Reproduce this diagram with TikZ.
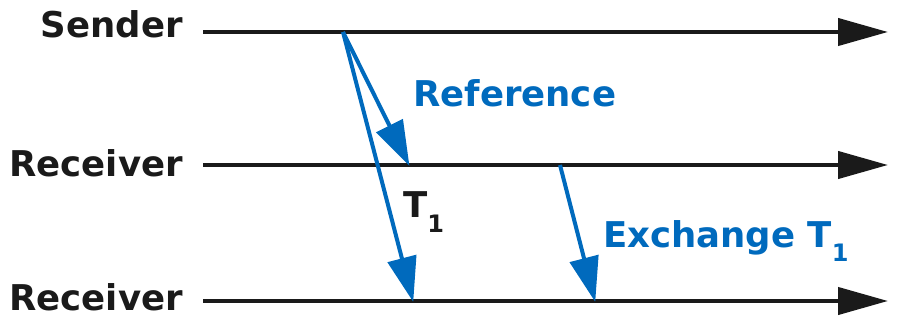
\documentclass[tikz,border=0pt]{standalone}
\usepackage{fontspec}
\setmainfont{DejaVu Sans}
\usetikzlibrary{arrows.meta}
\definecolor{adiblue}{RGB}{0,106,189}
\definecolor{linegray}{RGB}{26,26,26}
\tikzset{
  lbl/.style={inner sep=0pt, font=\fontsize{35.5}{40}\selectfont\bfseries},
  timeline/.style={line width=4.2pt, draw=linegray, -{Triangle[length=50pt,width=27pt]}},
  msg/.style={line width=4pt, draw=adiblue, -{Triangle[length=45pt,width=29pt]}, shorten >=-1pt},
}
\newcommand{\subone}{\raisebox{-14pt}{\fontsize{24}{28}\selectfont 1}}
\begin{document}
\begin{tikzpicture}[x=1pt,y=-1pt]
\useasboundingbox (0,0) rectangle (900,326);
% timelines
\coordinate (s0) at (203,32);   \coordinate (s1) at (888,32);
\coordinate (r0) at (203,165);  \coordinate (r1) at (888,165);
\coordinate (q0) at (203,301);  \coordinate (q1) at (888,301);
\draw[timeline] (s0) -- (s1);
\draw[timeline] (r0) -- (r1);
\draw[timeline] (q0) -- (q1);
% labels
\node[lbl, anchor=base east, text=linegray] (sender) at (183,38) {Sender};
\node[lbl, anchor=base east, text=linegray] (recv1) at (183,177) {Receiver};
\node[lbl, anchor=base east, text=linegray] (recv2) at (183,310) {Receiver};
% messages
\coordinate (a0) at (343,32);
\coordinate (a1) at (409,165);
\coordinate (b1) at (413,301);
\coordinate (c0) at (560,165);
\coordinate (c1) at (595,301);
\draw[msg] (a0) -- (a1);
\draw[msg] (a0) -- (b1);
\draw[msg] (c0) -- (c1);
\node[lbl, anchor=base west, text=adiblue] (ref) at (413,107) {Reference};
\node[lbl, anchor=base west, text=linegray] (t1) at (403,218) {T\subone};
\node[lbl, anchor=base west, text=adiblue] (ex) at (603,247) {Exchange T\subone};
\end{tikzpicture}
\end{document}
